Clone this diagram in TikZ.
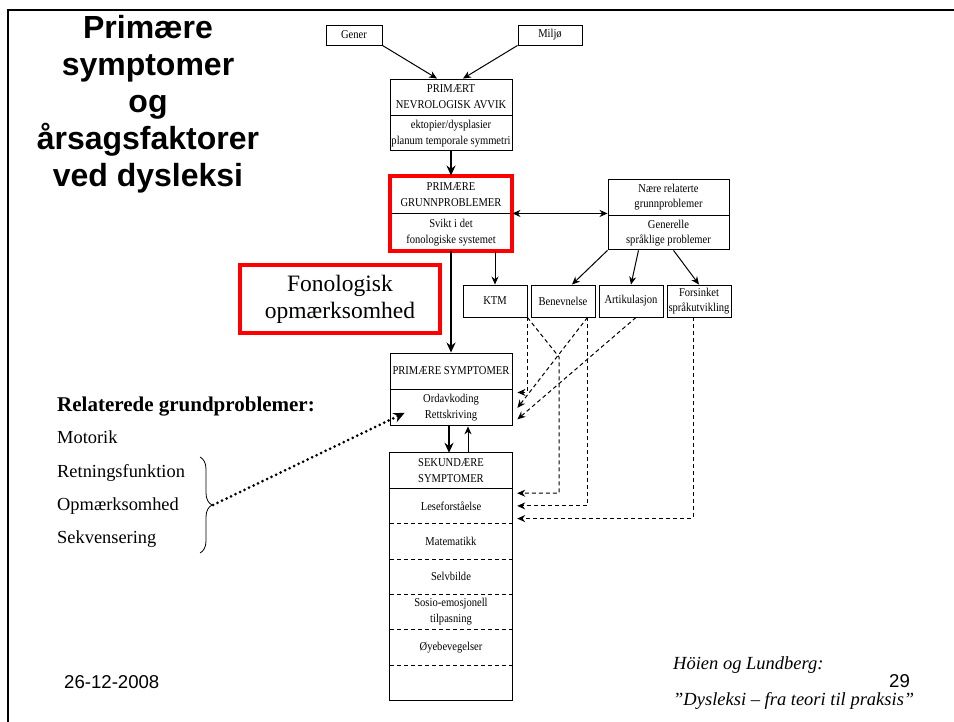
\documentclass[tikz,border=0pt]{standalone}
\usepackage{fontspec}
\setmainfont{Liberation Serif}
\newfontfamily\arialfont{Liberation Sans}
\newfontfamily\smallserif[FakeStretch=0.88]{Liberation Serif}
\usetikzlibrary{arrows.meta,decorations.pathreplacing}
\newcommand\diagfont{\smallserif\fontsize{12pt}{16pt}\selectfont}
\newcommand\diagtight{\smallserif\fontsize{12pt}{15pt}\selectfont}
\tikzset{>={Stealth[length=8pt,width=7pt]},
  box/.style={draw,line width=0.9pt,inner sep=0pt,align=center,font=\diagfont},
  cell/.style={inner sep=0pt,align=center,font=\diagfont},
  redframe/.style={draw=red,line width=4pt},
  arr/.style={->,line width=1pt},
  tarr/.style={-{Stealth[length=10pt,width=9pt]},line width=2pt},
  darr/.style={->,line width=1pt,dash pattern=on 4pt off 3pt},
  dotarr/.style={-{Stealth[length=11pt,width=10pt]},line width=3pt,dash pattern=on 0pt off 5pt,line cap=round},
  lefttext/.style={anchor=base west,inner sep=0pt,font=\fontsize{18.4pt}{22pt}\selectfont}
}

\begin{document}
\begin{tikzpicture}[x=1pt,y=-1pt]
\useasboundingbox (0,0) rectangle (954,722);
% slide frame
\draw[line width=2pt] (8,722) -- (8,10) -- (954,10);

% title
\node[font=\arialfont\bfseries\fontsize{32pt}{37pt}\selectfont,align=center,anchor=north,inner sep=0pt] (title) at (148,15) {Primære\\symptomer\\og\\årsagsfaktorer\\ved dysleksi};

% top boxes
\node[box,minimum width=56pt,minimum height=20pt] (gener) at (354,35) {Gener};
\node[box,minimum width=64pt,minimum height=20pt] (miljo) at (550,35) {Miljø};
\node[box,minimum width=122pt,minimum height=36pt] (nevA) at (451,97) {PRIMÆRT\\NEVROLOGISK AVVIK};
\node[box,minimum width=122pt,minimum height=35pt,anchor=north] (nevB) at (nevA.south) {ektopier/dysplasier\\planum temporale symmetri};

\node[box,minimum width=122pt,minimum height=37pt] (grunnA) at (451,194.5) {PRIMÆRE\\GRUNNPROBLEMER};
\node[box,minimum width=122pt,minimum height=37pt,anchor=north] (grunnB) at (grunnA.south) {Svikt i det\\fonologiske systemet};
\draw[redframe] (grunnA.north west) rectangle (grunnB.south east);

\node[box,minimum width=121pt,minimum height=36pt,font=\diagtight] (naereA) at (668.5,197) {Nære relaterte\\grunnproblemer};
\node[box,minimum width=121pt,minimum height=34pt,anchor=north,font=\diagtight] (naereB) at (naereA.south) {Generelle\\språklige problemer};

% row of related problems
\foreach \n/\t [count=\i] in {ktm/KTM, benev/Benevnelse, artik/Artikulasjon, fors/{Forsinket\\språkutvikling}}
  \node[box,minimum width=64pt,minimum height=32pt,font=\diagtight] (\n) at (427+68*\i,301) {\t};

\node[redframe,minimum width=200pt,minimum height=68pt,align=center,font=\fontsize{23.5pt}{27pt}\selectfont] (fonol) at (340,299) {Fonologisk\\opmærksomhed};

% symptoms
\node[box,minimum width=122pt,minimum height=36pt] (primA) at (451,371) {PRIMÆRE SYMPTOMER};
\node[box,minimum width=122pt,minimum height=36pt,anchor=north] (primB) at (primA.south) {Ordavkoding\\Rettskriving};

\node[cell,minimum width=122pt,minimum height=35pt] (sekA) at (451,470.5) {SEKUNDÆRE\\SYMPTOMER};
\foreach \t [count=\i, remember=\i as \p (initially A)] in {Leseforståelse, Matematikk, Selvbilde, {Sosio-emosjonell\\tilpasning}, Øyebevegelser, {}}
  \node[cell,minimum width=122pt,minimum height=35pt,anchor=north] (sek\i) at (sek\p.south) {\t};
\draw[line width=0.9pt] (sekA.north west) rectangle (sek6.south east);
\draw[line width=0.9pt] (sekA.south west) -- (sekA.south east);
\foreach \i in {1,...,5}
  \draw[line width=0.9pt,dash pattern=on 4pt off 3pt] (sek\i.south west) -- (sek\i.south east);

% arrows
\draw[arr] (gener.south east) -- ([xshift=-14pt]nevA.north);
\draw[arr] (miljo.south west) -- ([xshift=12pt]nevA.north);
\draw[tarr] (nevB.south) -- (grunnA.north);
\draw[arr,<->] (grunnB.north east) -- (grunnB.north east -| naereB.west);
\draw[arr] (grunnB.south -| ktm.north) -- (ktm.north);
\draw[arr] (naereB.south west) -- ([xshift=9pt]benev.north);
\draw[arr] ([xshift=-30pt]naereB.south) -- (artik.north);
\draw[arr] ([xshift=5pt]naereB.south) -- (fors.north);
\draw[tarr] (grunnB.south) -- (primA.north);
\draw[tarr] ([xshift=-2pt]primB.south) -- ([xshift=-2pt]sekA.north);
\draw[arr] ([xshift=17pt]sekA.north) -- ([xshift=17pt]primB.south);

% dashed connections
\coordinate (kryss) at (559,357);
\draw[darr] (ktm.south east) |- ([xshift=5pt,yshift=-3pt]primB.north east);
\draw[darr] (ktm.south east) -- (kryss) |- ([xshift=5pt,yshift=-5pt]sek1.north east);
\draw[darr] ([xshift=-8pt]benev.south east) -- ([xshift=5pt]primB.east);
\draw[darr] ([xshift=-8pt]benev.south east) |- ([xshift=5pt]sek1.east);
\draw[darr] ([xshift=5pt]artik.south) -- ([xshift=5pt,yshift=7pt]primB.south east);
\draw[darr] ([xshift=-6pt]fors.south) |- ([xshift=5pt,yshift=5pt]sek1.south east);

% related problems
\node[lefttext,font=\bfseries\fontsize{21pt}{25pt}\selectfont] (relat) at (57,411) {Relaterede grundproblemer:};
\foreach \t/\y [count=\i] in {Motorik/443, Retningsfunktion/477, Opmærksomhed/510, Sekvensering/543}
  \node[lefttext] (rel\i) at (57,\y) {\t};
\draw[decorate,decoration={brace,amplitude=12pt},line width=0.8pt] (200,457) -- (200,553);
\coordinate (bracetip) at (213,505);
\draw[dotarr] (bracetip) -- ([xshift=15pt,yshift=-5pt]primB.west);

% footer
\node[anchor=base west,inner sep=0pt,font=\arialfont\fontsize{18.6pt}{22pt}\selectfont] (dato) at (64,688) {26-12-2008};
\node[anchor=base west,inner sep=0pt,font=\arialfont\fontsize{18.6pt}{22pt}\selectfont] (side) at (889,687) {29};
\node[lefttext,font=\itshape\fontsize{18.5pt}{22pt}\selectfont] (kilde) at (673,669) {Höien og Lundberg:};
\node[lefttext,font=\itshape\fontsize{18.5pt}{22pt}\selectfont] (bok) at (673,705) {”Dysleksi – fra teori til praksis”};
\end{tikzpicture}
\end{document}
